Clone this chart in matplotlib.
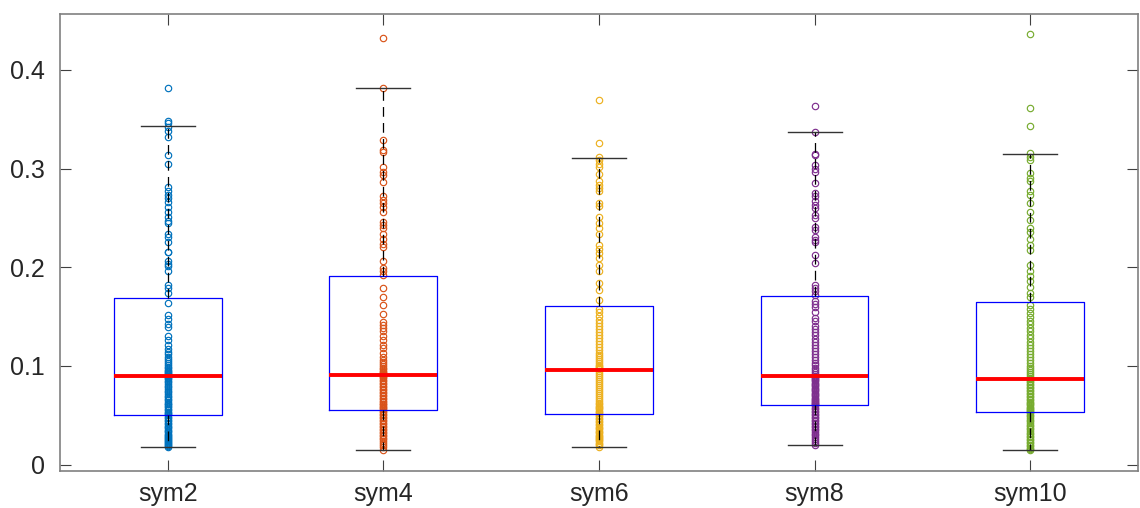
import matplotlib
matplotlib.use("Agg")
import matplotlib.pyplot as plt

categories = ["sym2", "sym4", "sym6", "sym8", "sym10"]
colors = ["#0072BD", "#D95319", "#EDB120", "#7E2F8E", "#77AC30"]

# box statistics
q1 = [0.0500, 0.0554, 0.0514, 0.0605, 0.0534]
med = [0.0894, 0.0904, 0.0960, 0.0894, 0.0873]
q3 = [0.1685, 0.1910, 0.1610, 0.1710, 0.1650]
whislo = [0.0184, 0.0149, 0.0180, 0.0200, 0.0150]
whishi = [0.3430, 0.3817, 0.3110, 0.3370, 0.3150]

sym2 = [0.382, 0.348, 0.346, 0.342, 0.338, 0.332, 0.314, 0.305, 0.281, 0.277,
        0.273, 0.270, 0.266, 0.261, 0.256, 0.251, 0.247, 0.245, 0.234, 0.231,
        0.226, 0.216, 0.215, 0.206, 0.203, 0.201, 0.196, 0.182, 0.179, 0.174,
        0.164, 0.152, 0.148, 0.143, 0.140, 0.130, 0.126, 0.121, 0.117, 0.114,
        0.112, 0.109, 0.107, 0.105, 0.103, 0.101, 0.099, 0.098, 0.096, 0.095,
        0.094, 0.093, 0.092, 0.091, 0.090, 0.089,
        0.088, 0.087, 0.085, 0.084, 0.082, 0.080, 0.079, 0.077, 0.075, 0.074,
        0.072, 0.070, 0.069, 0.067, 0.066, 0.064, 0.062, 0.061, 0.059, 0.058,
        0.056, 0.055, 0.053, 0.052, 0.051, 0.050,
        0.048, 0.047, 0.045, 0.044, 0.042, 0.041, 0.039, 0.038, 0.037, 0.035,
        0.034, 0.033, 0.031, 0.030, 0.029, 0.028, 0.027, 0.026, 0.025, 0.024,
        0.023, 0.022, 0.021, 0.020, 0.019, 0.018]
sym4 = [0.432, 0.382, 0.329, 0.319, 0.317, 0.302, 0.297, 0.294, 0.286, 0.272,
        0.268, 0.265, 0.261, 0.256, 0.246, 0.243, 0.240, 0.234, 0.229, 0.224,
        0.221, 0.206, 0.199, 0.196, 0.192,
        0.179, 0.170, 0.162, 0.153, 0.145, 0.142, 0.138, 0.135, 0.130, 0.126,
        0.121, 0.118, 0.113, 0.109, 0.106, 0.104, 0.102, 0.100, 0.098, 0.097,
        0.095, 0.094, 0.093, 0.092, 0.091,
        0.090, 0.089, 0.088, 0.086, 0.085, 0.083, 0.082, 0.080, 0.079, 0.077,
        0.076, 0.074, 0.073, 0.071, 0.070, 0.068, 0.067, 0.065, 0.064, 0.062,
        0.061, 0.059, 0.058, 0.057, 0.056,
        0.054, 0.053, 0.051, 0.050, 0.048, 0.047, 0.045, 0.044, 0.042, 0.041,
        0.039, 0.038, 0.036, 0.035, 0.033, 0.032, 0.030, 0.029, 0.027, 0.026,
        0.024, 0.022, 0.020, 0.018, 0.015]
sym6 = [0.369, 0.326, 0.312, 0.309, 0.305, 0.302, 0.295, 0.287, 0.283, 0.280,
        0.277, 0.265, 0.262, 0.251, 0.245, 0.240, 0.234, 0.223, 0.219, 0.214,
        0.209, 0.202, 0.196, 0.184, 0.177, 0.167,
        0.158, 0.155, 0.151, 0.147, 0.144, 0.141, 0.137, 0.134, 0.131, 0.128,
        0.125, 0.122, 0.119, 0.116, 0.113, 0.111, 0.109, 0.107, 0.105, 0.103,
        0.101, 0.100, 0.099, 0.098, 0.097,
        0.095, 0.093, 0.091, 0.089, 0.087, 0.085, 0.083, 0.081, 0.079, 0.077,
        0.075, 0.073, 0.071, 0.069, 0.067, 0.065, 0.063, 0.061, 0.059, 0.058,
        0.057, 0.056, 0.054, 0.053, 0.052,
        0.050, 0.049, 0.047, 0.046, 0.044, 0.043, 0.041, 0.040, 0.038, 0.037,
        0.036, 0.034, 0.033, 0.032, 0.030, 0.029, 0.028, 0.027, 0.026, 0.025,
        0.024, 0.022, 0.021, 0.020, 0.018]
sym8 = [0.363, 0.337, 0.315, 0.314, 0.304, 0.300, 0.297, 0.285, 0.275, 0.272,
        0.267, 0.263, 0.260, 0.253, 0.250, 0.241, 0.238, 0.231, 0.228, 0.226,
        0.212, 0.204, 0.182, 0.179, 0.176, 0.172,
        0.166, 0.163, 0.160, 0.155, 0.149, 0.146, 0.141, 0.137, 0.134, 0.131,
        0.127, 0.124, 0.121, 0.118, 0.115, 0.112, 0.109, 0.106, 0.103, 0.101,
        0.098, 0.096, 0.094, 0.092, 0.090,
        0.089, 0.088, 0.087, 0.086, 0.085, 0.083, 0.082, 0.081, 0.080, 0.078,
        0.077, 0.076, 0.075, 0.073, 0.072, 0.071, 0.070, 0.068, 0.067, 0.066,
        0.065, 0.064, 0.063, 0.062, 0.061,
        0.059, 0.057, 0.056, 0.054, 0.053, 0.051, 0.050, 0.048, 0.047, 0.045,
        0.044, 0.042, 0.041, 0.039, 0.038, 0.036, 0.035, 0.033, 0.031, 0.030,
        0.028, 0.026, 0.024, 0.022, 0.020]
sym10 = [0.436, 0.361, 0.343, 0.316, 0.312, 0.309, 0.296, 0.290, 0.287, 0.277,
         0.273, 0.265, 0.256, 0.248, 0.240, 0.236, 0.229, 0.223, 0.218, 0.202,
         0.196, 0.191, 0.186, 0.180, 0.174, 0.170,
         0.162, 0.158, 0.154, 0.150, 0.146, 0.143, 0.139, 0.135, 0.131, 0.128,
         0.124, 0.121, 0.118, 0.115, 0.112, 0.109, 0.106, 0.103, 0.100, 0.098,
         0.096, 0.094, 0.092, 0.090, 0.088,
         0.087, 0.085, 0.084, 0.082, 0.081, 0.079, 0.078, 0.076, 0.075, 0.073,
         0.072, 0.070, 0.069, 0.067, 0.066, 0.064, 0.063, 0.061, 0.060, 0.058,
         0.057, 0.056, 0.055, 0.054, 0.053,
         0.052, 0.050, 0.049, 0.047, 0.045, 0.044, 0.042, 0.040, 0.039, 0.037,
         0.036, 0.034, 0.032, 0.031, 0.029, 0.028, 0.026, 0.025, 0.023, 0.022,
         0.020, 0.019, 0.017, 0.016, 0.015]
points = [sym2, sym4, sym6, sym8, sym10]

yticks = [0, 0.1, 0.2, 0.3, 0.4]
ytick_labels = ["0", "0.1", "0.2", "0.3", "0.4"]

plt.rcParams['font.family'] = ['Liberation Sans', 'DejaVu Sans']
plt.rcParams['lines.scale_dashes'] = False

fig = plt.figure(figsize=(11.40, 5.08), dpi=100)
ax = fig.add_axes([0.0526, 0.0728, 0.9456, 0.8996])

positions = list(range(1, len(categories) + 1))

for pos, vals, c in zip(positions, points, colors):
    ax.plot([pos] * len(vals), vals, linestyle='none', marker='o',
            markersize=4.6, markerfacecolor='none', markeredgecolor=c,
            markeredgewidth=0.85, zorder=2)

stats = []
for i, name in enumerate(categories):
    stats.append(dict(label=name, q1=q1[i], med=med[i], q3=q3[i],
                      whislo=whislo[i], whishi=whishi[i], fliers=[]))

ax.bxp(stats, positions=positions, widths=0.5, capwidths=0.25,
       showfliers=False, patch_artist=False,
       boxprops=dict(color='#0000FF', linewidth=0.9),
       medianprops=dict(color='#FF0000', linewidth=2.8),
       whiskerprops=dict(color='black', linewidth=0.9, linestyle=(0, (7, 4.5))),
       capprops=dict(color='#333333', linewidth=1.0),
       manage_ticks=False)
for art in ax.lines[len(points):]:
    art.set_zorder(3)

ax.set_xlim(0.5, 5.5)
ax.set_ylim(-0.0064, 0.4566)
ax.set_xticks(positions)
ax.set_xticklabels(categories)
ax.set_yticks(yticks)
ax.set_yticklabels(ytick_labels)

ax.tick_params(axis='both', direction='in', length=8, width=0.8,
               color='#404040', labelsize=18, labelcolor='#262626',
               top=True, right=True)
ax.tick_params(axis='y', pad=11)
ax.tick_params(axis='x', pad=8)
for sp in ax.spines.values():
    sp.set_color('#808080')
    sp.set_linewidth(1.2)

fig.savefig("out.png", dpi=100)
